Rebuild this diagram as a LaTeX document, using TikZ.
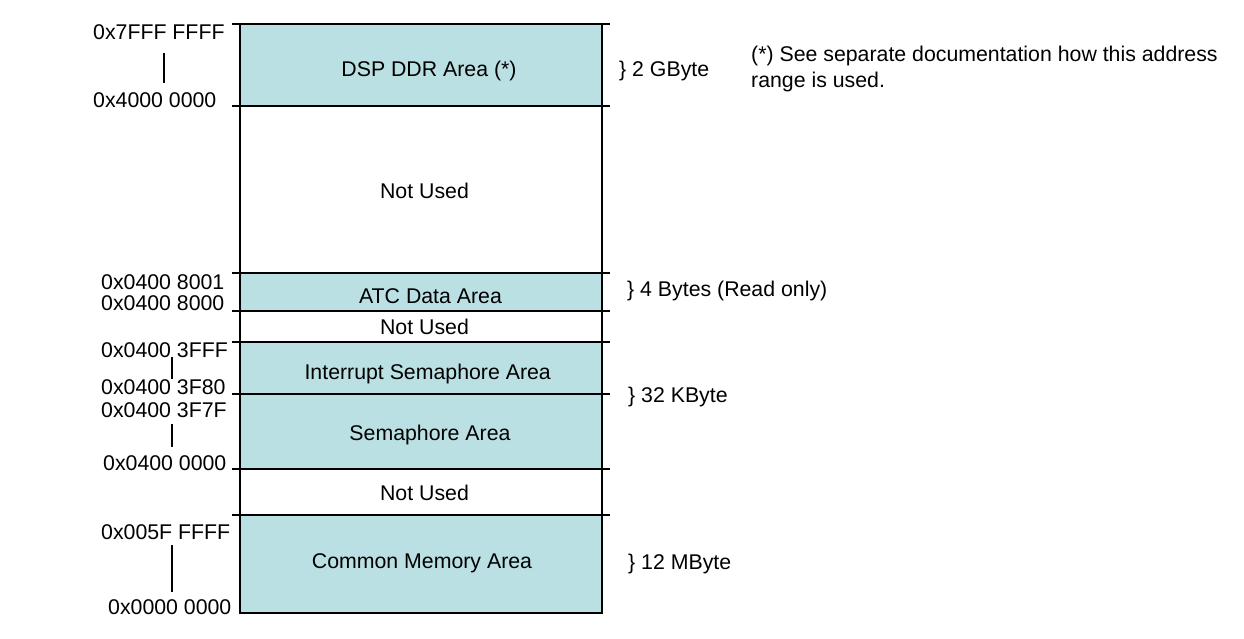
\documentclass[tikz,border=0pt]{standalone}
\usepackage{fontspec}
\setmainfont{Liberation Sans}
\usetikzlibrary{calc}
\definecolor{areafill}{RGB}{186,224,227}
\begin{document}
\begin{tikzpicture}[x=1pt,y=-1pt,
  region/.style={draw=black,line width=2pt,anchor=north west,minimum width=362pt,inner sep=0pt,outer sep=0pt},
  used/.style={region,fill=areafill},
  free/.style={region,fill=white},
  txt/.style={font=\fontsize{21.3}{26}\selectfont,inner sep=0pt,anchor=base},
  addr/.style={txt,anchor=base west},
  tick/.style={line width=2pt},
  conn/.style={line width=1.8pt}]
\useasboundingbox (0,0) rectangle (1244,639);
% regions
\node[used,minimum height=82pt]  (dsp) at (240,24)  {};
\node[free,minimum height=167pt] (nu1) at (240,106) {};
\node[used,minimum height=38pt]  (atc) at (240,273) {};
\node[free,minimum height=31pt]  (nu2) at (240,311) {};
\node[used,minimum height=52pt]  (isa) at (240,342) {};
\node[used,minimum height=75pt]  (sem) at (240,394) {};
\node[free,minimum height=46pt]  (nu3) at (240,469) {};
\node[used,minimum height=98pt]  (cma) at (240,515) {};
% ticks
\foreach \r in {dsp,nu1,atc,nu2,isa,sem,nu3,cma}{
  \draw[tick] ($(\r.north west)+(-8,0)$) -- ($(\r.north east)+(8,0)$);
}
% region texts
\node[txt] (tdsp) at (429,76.5)  {DSP DDR Area (*)};
\node[txt] (tnu1) at (424.5,198) {Not Used};
\node[txt] (tatc) at (430.5,303) {ATC Data Area};
\node[txt] (tnu2) at (424.5,334.5) {Not Used};
\node[txt] (tisa) at (427.7,379) {Interrupt Semaphore Area};
\node[txt] (tsem) at (430,440)   {Semaphore Area};
\node[txt] (tnu3) at (424.5,500) {Not Used};
\node[txt] (tcma) at (422,568)   {Common Memory Area};
% addresses
\node[addr] (a1) at (93,39.5)   {0x7FFF FFFF};
\node[addr] (a2) at (93,107.5)  {0x4000 0000};
\node[addr] (a3) at (101,289.5) {0x0400 8001};
\node[addr] (a4) at (101,310)   {0x0400 8000};
\node[addr] (a5) at (101,357.5) {0x0400 3FFF};
\node[addr] (a6) at (101,394.5) {0x0400 3F80};
\node[addr] (a7) at (101,417.5) {0x0400 3F7F};
\node[addr] (a8) at (103,470.5) {0x0400 0000};
\node[addr] (a9) at (101,539.5) {0x005F FFFF};
\node[addr] (a10) at (108,614)  {0x0000 0000};
% vertical range lines
\coordinate (v1a) at (164,53);  \coordinate (v1b) at (164,83);
\coordinate (v2a) at (172,357); \coordinate (v2b) at (172,379);
\coordinate (v3a) at (172,424); \coordinate (v3b) at (172,447);
\coordinate (v4a) at (172,545); \coordinate (v4b) at (172,592);
\draw[conn] (v1a) -- (v1b);
\draw[conn] (v2a) -- (v2b);
\draw[conn] (v3a) -- (v3b);
\draw[conn] (v4a) -- (v4b);
% sizes
\node[addr] (s1) at (619,76.5)  {\} 2 GByte};
\node[addr] (s2) at (627,296.5) {\} 4 Bytes (Read only)};
\node[addr] (s3) at (628,402.5) {\} 32 KByte};
\node[addr] (s4) at (628,569)   {\} 12 MByte};
% note
\node[addr,align=left] (note) at (751,87.5) {(*) See separate documentation how this address\\range is used.};
\end{tikzpicture}
\end{document}
